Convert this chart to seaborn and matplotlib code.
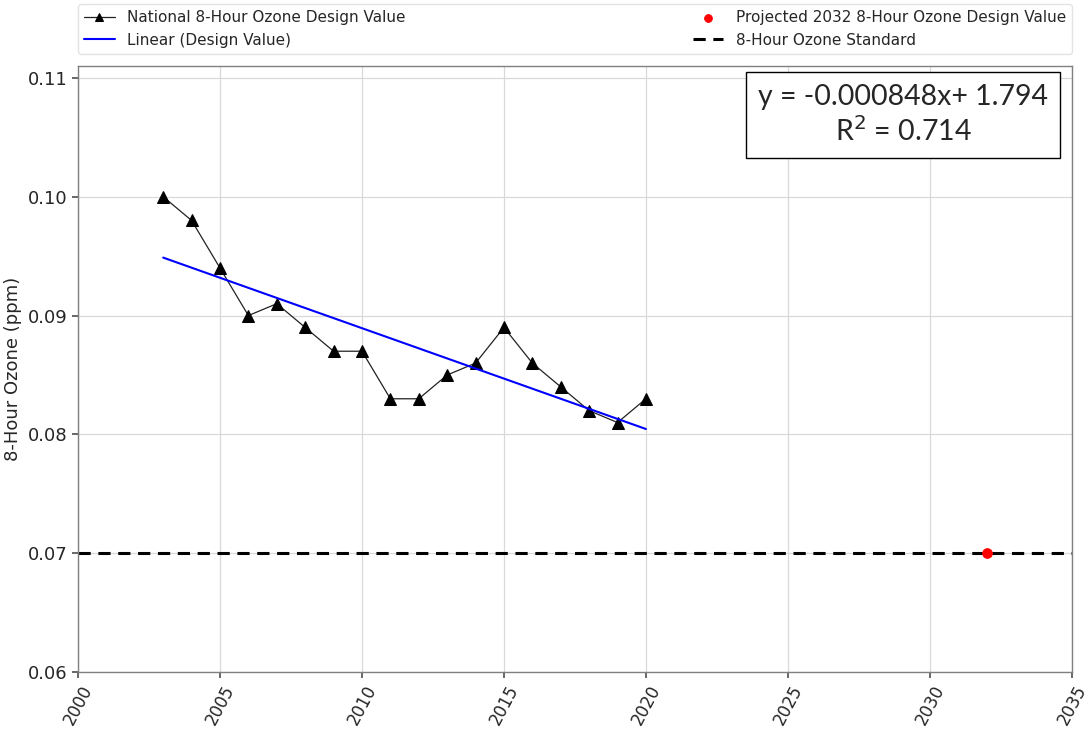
import numpy as np
import pandas as pd
import matplotlib
matplotlib.use("Agg")
import matplotlib.pyplot as plt
import seaborn as sns

years = [2003, 2004, 2005, 2006, 2007, 2008, 2009, 2010, 2011, 2012,
         2013, 2014, 2015, 2016, 2017, 2018, 2019, 2020]
design_values = [0.100, 0.098, 0.094, 0.090, 0.091, 0.089, 0.087, 0.087, 0.083, 0.083,
                 0.085, 0.086, 0.089, 0.086, 0.084, 0.082, 0.081, 0.083]
projected_year = [2032]
projected_value = [0.070]
standard_value = 0.070
x_ticks = [2000, 2005, 2010, 2015, 2020, 2025, 2030, 2035]
y_ticks = [0.06, 0.07, 0.08, 0.09, 0.10, 0.11]

sns.set_theme(style="whitegrid")
plt.rcParams['font.family'] = ['DejaVu Sans']

fig = plt.figure(figsize=(10.88, 7.29), dpi=100)
ax = fig.add_axes([0.0717, 0.078, 0.9135, 0.8315])

df = pd.DataFrame({"Year": years, "DV": design_values})
slope, intercept = np.polyfit(years, design_values, 1)
df["Fit"] = slope * df["Year"] + intercept

sns.lineplot(data=df, x="Year", y="DV", ax=ax, color="#222222", linewidth=0.9,
             marker="^", markersize=8, markeredgecolor="black", markerfacecolor="black",
             label="National 8-Hour Ozone Design Value")
sns.lineplot(data=df, x="Year", y="Fit", ax=ax, color="blue", linewidth=1.5,
             label="Linear (Design Value)")
sns.scatterplot(x=projected_year, y=projected_value, ax=ax, color="red", s=50,
                edgecolor="red", zorder=5, label="Projected 2032 8-Hour Ozone Design Value")
ax.axhline(standard_value, color="black", linestyle="--", linewidth=2.2,
           dashes=(4, 2.5), label="8-Hour Ozone Standard")

ax.set_xlim(2000, 2035)
ax.set_ylim(0.06, 0.111)
ax.set_xticks(x_ticks)
ax.set_yticks(y_ticks)
ax.set_yticklabels([f"{v:.2f}" for v in y_ticks], fontsize=13)
ax.set_xticklabels([str(v) for v in x_ticks], fontsize=12, rotation=62)
ax.set_xlabel("")
ax.set_ylabel("8-Hour Ozone (ppm)", fontsize=13)
ax.grid(True, color="#d9d9d9", linewidth=0.9)
for s in ax.spines.values():
    s.set_color("#808080")
    s.set_linewidth(1.0)
ax.tick_params(axis="both", which="both", length=4, color="#555555", left=True, bottom=True)

handles, labels = ax.get_legend_handles_labels()
order = ["National 8-Hour Ozone Design Value", "Linear (Design Value)",
         "Projected 2032 8-Hour Ozone Design Value", "8-Hour Ozone Standard"]
hmap = dict(zip(labels, handles))
leg = ax.legend([hmap[k] for k in order], order, ncol=2, mode="expand",
                bbox_to_anchor=(0, 1.02, 1, 0.08), loc="lower left",
                fontsize=11, frameon=True, borderaxespad=0, handlelength=2, markerscale=0.8)
leg.get_frame().set_edgecolor("#dddddd")

ax.text(0.83, 0.919, "y = -0.000848x+ 1.794\nR$^2$ = 0.714", transform=ax.transAxes,
        ha="center", va="center", fontsize=20.5, family=["Lato", "DejaVu Sans"],
        linespacing=1.25,
        bbox=dict(boxstyle="square,pad=0.42", facecolor="white", edgecolor="black", linewidth=1))

fig.savefig("out.png", dpi=100)
